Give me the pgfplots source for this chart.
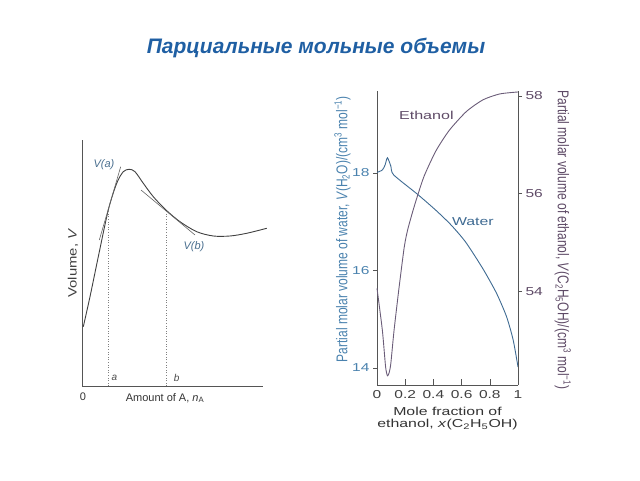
\documentclass[border=0pt]{standalone}
\usepackage{pgfplots}
\pgfplotsset{compat=1.18}
\usepackage{fontspec}
\setmainfont{Liberation Sans}
\usepackage{graphicx}

\definecolor{titleblue}{HTML}{1F5FA3}
\definecolor{waterc}{HTML}{3E6A92}
\definecolor{ethc}{HTML}{6A5C78}
\definecolor{lblue}{HTML}{4A82AE}
\definecolor{lpurp}{HTML}{5E4A66}
\definecolor{axisgray}{HTML}{555555}
\definecolor{vlab}{HTML}{4A6F8F}

\pgfplotsset{
  /pgf/number format/assume math mode=true,
  every axis/.append style={axis line style={axisgray, line width=0.8pt}},
  rightbox/.style={
    at={(377pt,95pt)}, anchor=south west, scale only axis,
    width=141pt, height=294pt, xmin=0, xmax=1, clip=false,
    tick style={axisgray, line width=0.6pt},
  },
}

% right chart: mole fraction of ethanol vs partial molar volumes
\pgfplotstableread{
x v
0     18.01
0.038 18.06
0.057 18.16
0.074 18.31
0.098 18.14
0.118 17.96
0.288 17.56
0.419 17.23
0.526 16.93
0.629 16.58
0.752 16.03
0.848 15.53
0.919 15.05
0.966 14.57
1.0   14.02
}\water

\pgfplotstableread{
x v
0     54.06
0.038 53.20
0.061 52.45
0.074 52.27
0.086 52.33
0.098 52.52
0.121 53.20
0.157 54.09
0.193 54.90
0.216 55.24
0.252 55.62
0.288 55.96
0.336 56.37
0.419 56.88
0.514 57.30
0.634 57.68
0.752 57.92
0.871 58.04
1.0   58.08
}\ethanol

\begin{document}
\begin{tikzpicture}[x=1pt,y=1pt]
\path (0,0) rectangle (640,480);

\node[font=\fontsize{21}{25}\selectfont\bfseries\itshape, text=titleblue] at (316,432) {Парциальные мольные объемы};

% left chart: schematic V against n_A
\begin{axis}[
  at={(82pt,94pt)}, anchor=south west, scale only axis,
  width=181pt, height=246pt,
  xmin=0, xmax=181, ymin=0, ymax=246,
  axis x line*=bottom, axis y line*=left,
  axis line style={-},
  ticks=none, clip=false,
]
\addplot[color=black!75, line width=0.9pt, smooth] coordinates {
  (1.3,59.3)(8,89.3)(16.3,129.3)(26.3,176)(34.7,202.7)(41.3,214.3)(47.3,216.7)
  (53,214.3)(61.3,202.7)(71.3,189.3)(84,176)(98,164.3)(114.7,154.3)(131.3,150)
  (148,150)(164.7,152.7)(184.7,157.7)
};
% tangents
\addplot[color=black!60, line width=0.6pt] coordinates {(17.3,146)(38.7,219.3)};
\addplot[color=black!60, line width=0.6pt] coordinates {(59,196)(113,151)};
% dotted guides
\addplot[color=black!50, dotted, line width=0.6pt] coordinates {(26.3,0)(26.3,176)};
\addplot[color=black!50, dotted, line width=0.6pt] coordinates {(84,0)(84,176)};

\node[text=vlab, font=\fontsize{11}{13}\selectfont\itshape] at (axis cs:22,221) {V(a)};
\node[text=vlab, font=\fontsize{11}{13}\selectfont\itshape] at (axis cs:112,139) {V(b)};
\node[text=black!70, font=\fontsize{10}{12}\selectfont\itshape] at (axis cs:32.3,8) {a};
\node[text=black!70, font=\fontsize{10}{12}\selectfont\itshape] at (axis cs:94.7,8) {b};
\node[text=black!80, font=\fontsize{11}{13}\selectfont] at (axis cs:1,-11) {0};
\node[text=black!80, font=\fontsize{11}{13}\selectfont] at (axis cs:83,-12) {Amount of A, \textit{n}\textsubscript{A}};
\node[text=black!75, font=\fontsize{11}{13}\selectfont, rotate=90] at (axis cs:-9,123) {\scalebox{1.35}[1.1]{Volume, \textit{V}}};
\end{axis}

% right chart: water (left axis)
\begin{axis}[
  rightbox,
  ymin=13.65, ymax=19.68,
  axis x line*=bottom, axis y line*=left,
  axis line style={-}, x axis line style={draw=none}, xtick=\empty,
  ytick={14,16,18}, tick align=outside, major tick length=4pt,
  yticklabel={\scalebox{1.35}[1]{\pgfmathprintnumber{\tick}}},
  yticklabel style={text=lblue, font=\fontsize{11.5}{13}\selectfont},
  ylabel={\scalebox{1}[1.3]{Partial molar volume of water, \textit{V}(H\textsubscript{2}O)/(cm\textsuperscript{3} mol\textsuperscript{−1})}},
  ylabel style={at={(axis description cs:-0.245,0.53)}, anchor=center,
    text=lblue, font=\fontsize{12}{14}\selectfont},
]
\addplot[color=waterc, line width=0.9pt, smooth, tension=0.4] table {\water};
\node[text=waterc, font=\fontsize{11.5}{13}\selectfont] at (axis cs:0.68,17.0) {\scalebox{1.38}[1]{Water}};
\end{axis}

% right chart: ethanol (right axis)
\begin{axis}[
  rightbox,
  ymin=52.08, ymax=58.1,
  axis x line*=bottom, axis y line*=right,
  axis line style={-}, x axis line style={draw=none}, xtick=\empty,
  ytick={54,56,58}, tick align=outside, major tick length=4pt,
  yticklabel={\scalebox{1.35}[1]{\pgfmathprintnumber{\tick}}},
  yticklabel style={text=lpurp, font=\fontsize{11.5}{13}\selectfont},
  ylabel={\scalebox{1}[1.3]{Partial molar volume of ethanol, \textit{V}(C\textsubscript{2}H\textsubscript{5}OH)/(cm\textsuperscript{3} mol\textsuperscript{−1})}},
  ylabel style={at={(axis description cs:1.317,0.493)}, rotate=180, anchor=center,
    text=lpurp, font=\fontsize{12}{14}\selectfont},
]
\addplot[color=ethc, line width=0.9pt, smooth, tension=0.4] table {\ethanol};
\node[text=lpurp, font=\fontsize{11.5}{13}\selectfont] at (axis cs:0.35,57.6) {\scalebox{1.4}[1]{Ethanol}};
\end{axis}

% right chart: mole fraction axis
\begin{axis}[
  rightbox,
  ymin=0, ymax=1,
  axis x line*=bottom, axis y line*=left,
  axis line style={-}, y axis line style={draw=none}, ytick=\empty,
  xtick={0,0.2,0.4,0.6,0.8,1}, tick align=inside, major tick length=6pt,
  xticklabel={\scalebox{1.35}[1]{\pgfmathprintnumber{\tick}}},
  xticklabel style={text=black!75, font=\fontsize{11.5}{13}\selectfont, yshift=-2pt},
  xlabel={\scalebox{1.38}[1]{\begin{tabular}{@{}c@{}}Mole fraction of\\[-1pt]ethanol, \textit{x}(C\textsubscript{2}H\textsubscript{5}OH)\end{tabular}}},
  xlabel style={text=black!80, font=\fontsize{11.5}{13}\selectfont, yshift=-1pt},
]
\end{axis}
\end{tikzpicture}
\end{document}
